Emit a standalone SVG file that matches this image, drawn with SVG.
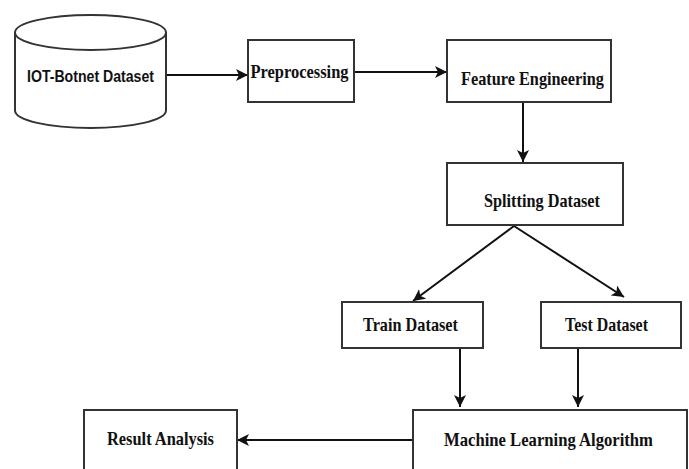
<svg xmlns="http://www.w3.org/2000/svg" width="689" height="469" viewBox="0 0 689 469">
  <style>
    .box { fill: #ffffff; stroke: #333333; stroke-width: 2; }
    .edge { fill: none; stroke: #111111; stroke-width: 2; }
    .lbl { font-family: "Liberation Serif", "Times New Roman", serif; font-weight: bold; font-size: 19px; fill: #111111; text-anchor: middle; }
    .lbl-sans { font-family: "Liberation Sans", Arial, sans-serif; font-weight: bold; font-size: 17px; fill: #111111; text-anchor: middle; }
  </style>
  <defs>
    <marker id="arrow" markerUnits="userSpaceOnUse" markerWidth="12" markerHeight="12" viewBox="0 0 12 12" refX="12" refY="6" orient="auto">
      <path d="M0,0 L12,6 L0,12 L3,6 z" fill="#111111"/>
    </marker>
  </defs>

  <rect width="689" height="469" fill="#ffffff"/>

  <!-- connectors -->
  <g id="connectors">
    <line class="edge" x1="166" y1="75" x2="248" y2="75" marker-end="url(#arrow)"/>
    <line class="edge" x1="354" y1="72" x2="447" y2="72" marker-end="url(#arrow)"/>
    <line class="edge" x1="523" y1="102" x2="523" y2="162" marker-end="url(#arrow)"/>
    <line class="edge" x1="514" y1="226" x2="413" y2="301" marker-end="url(#arrow)"/>
    <line class="edge" x1="514" y1="226" x2="624" y2="297" marker-end="url(#arrow)"/>
    <line class="edge" x1="460" y1="348" x2="460" y2="407" marker-end="url(#arrow)"/>
    <line class="edge" x1="578" y1="348" x2="578" y2="407" marker-end="url(#arrow)"/>
    <line class="edge" x1="413" y1="440" x2="237" y2="440" marker-end="url(#arrow)"/>
  </g>

  <!-- data source cylinder -->
  <g id="iot-botnet-dataset">
    <path class="box" d="M15,32.5 L15,110.5 A75.5,17.5 0 0 0 166,110.5 L166,32.5"/>
    <ellipse class="box" cx="90.5" cy="32.5" rx="75.5" ry="17.5"/>
    <text class="lbl-sans" x="90.5" y="82" textLength="127" lengthAdjust="spacingAndGlyphs">IOT-Botnet Dataset</text>
  </g>

  <g id="preprocessing">
    <rect class="box" x="248" y="40" width="106" height="62"/>
    <text class="lbl" x="299.5" y="78" textLength="98" lengthAdjust="spacingAndGlyphs">Preprocessing</text>
  </g>

  <g id="feature-engineering">
    <rect class="box" x="447" y="40" width="164" height="62"/>
    <text class="lbl" x="532.5" y="85" textLength="143" lengthAdjust="spacingAndGlyphs">Feature Engineering</text>
  </g>

  <g id="splitting-dataset">
    <rect class="box" x="447" y="163" width="176" height="62"/>
    <text class="lbl" x="542" y="207" textLength="116" lengthAdjust="spacingAndGlyphs">Splitting Dataset</text>
  </g>

  <g id="train-dataset">
    <rect class="box" x="342" y="302" width="141" height="46"/>
    <text class="lbl" x="410.5" y="331" textLength="95" lengthAdjust="spacingAndGlyphs">Train Dataset</text>
  </g>

  <g id="test-dataset">
    <rect class="box" x="541" y="302" width="140" height="46"/>
    <text class="lbl" x="606.5" y="331" textLength="83" lengthAdjust="spacingAndGlyphs">Test Dataset</text>
  </g>

  <g id="machine-learning-algorithm">
    <rect class="box" x="413" y="410" width="274" height="70"/>
    <text class="lbl" x="548.5" y="446" textLength="209" lengthAdjust="spacingAndGlyphs">Machine Learning Algorithm</text>
  </g>

  <g id="result-analysis">
    <rect class="box" x="84" y="410" width="153" height="70"/>
    <text class="lbl" x="160.5" y="445" textLength="107" lengthAdjust="spacingAndGlyphs">Result Analysis</text>
  </g>
</svg>
